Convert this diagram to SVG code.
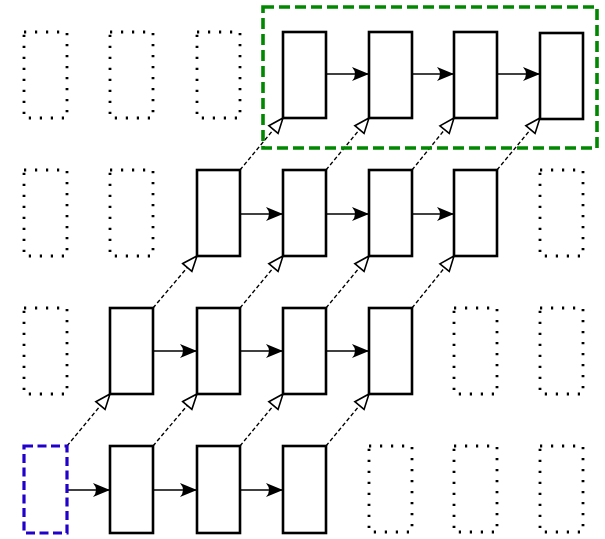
<svg xmlns="http://www.w3.org/2000/svg" width="605" height="539" viewBox="0 0 605 539">
<defs>
<style>
.box{fill:#fff;stroke:#000;stroke-width:2.6}
.dot{fill:none;stroke:#000;stroke-width:2.8;stroke-dasharray:2.2 8.8}
.h{stroke:#000;stroke-width:1.5;fill:none}
.d{stroke:#000;stroke-width:1.4;fill:none;stroke-dasharray:4 2.5}
</style>
<marker id="ah" markerUnits="userSpaceOnUse" markerWidth="20" markerHeight="16" refX="18" refY="8" orient="auto" viewBox="0 0 20 16">
<path d="M1,1 L18,8 L1,15 Q7,8 1,1 z" fill="#000"/>
</marker>
<marker id="tri" markerUnits="userSpaceOnUse" markerWidth="18" markerHeight="16" refX="16.5" refY="8" orient="auto" viewBox="0 0 18 16">
<path d="M1.5,2 L16.5,8 L1.5,14 z" fill="#fff" stroke="#000" stroke-width="1.6"/>
</marker>
</defs>
<rect x="0" y="0" width="605" height="539" fill="#fff"/>
<g id="empty">
<rect class="dot" x="24" y="32" width="43" height="86"/>
<rect class="dot" x="110" y="32" width="43" height="86"/>
<rect class="dot" x="197" y="32" width="43" height="86"/>
<rect class="dot" x="24" y="170" width="43" height="86"/>
<rect class="dot" x="110" y="170" width="43" height="86"/>
<rect class="dot" x="540" y="170" width="43" height="86"/>
<rect class="dot" x="24" y="308" width="43" height="86"/>
<rect class="dot" x="454" y="308" width="43" height="86"/>
<rect class="dot" x="540" y="308" width="43" height="86"/>
<rect class="dot" x="369" y="446" width="43" height="86"/>
<rect class="dot" x="454" y="446" width="43" height="86"/>
<rect class="dot" x="540" y="446" width="43" height="86"/>
</g>
<g id="connectors">
<line class="h" x1="326" y1="74" x2="369" y2="74" marker-end="url(#ah)"/>
<line class="h" x1="412" y1="74" x2="454" y2="74" marker-end="url(#ah)"/>
<line class="h" x1="497" y1="74" x2="540" y2="74" marker-end="url(#ah)"/>
<line class="h" x1="240" y1="214" x2="283" y2="214" marker-end="url(#ah)"/>
<line class="h" x1="326" y1="214" x2="369" y2="214" marker-end="url(#ah)"/>
<line class="h" x1="412" y1="214" x2="454" y2="214" marker-end="url(#ah)"/>
<line class="h" x1="153" y1="351" x2="197" y2="351" marker-end="url(#ah)"/>
<line class="h" x1="240" y1="351" x2="283" y2="351" marker-end="url(#ah)"/>
<line class="h" x1="326" y1="351" x2="369" y2="351" marker-end="url(#ah)"/>
<line class="h" x1="67" y1="490" x2="110" y2="490" marker-end="url(#ah)"/>
<line class="h" x1="153" y1="490" x2="197" y2="490" marker-end="url(#ah)"/>
<line class="h" x1="240" y1="490" x2="283" y2="490" marker-end="url(#ah)"/>
<line class="d" x1="240" y1="170" x2="283" y2="118" marker-end="url(#tri)"/>
<line class="d" x1="326" y1="170" x2="369" y2="118" marker-end="url(#tri)"/>
<line class="d" x1="412" y1="170" x2="454" y2="118" marker-end="url(#tri)"/>
<line class="d" x1="497" y1="170" x2="540" y2="118" marker-end="url(#tri)"/>
<line class="d" x1="153" y1="308" x2="197" y2="256" marker-end="url(#tri)"/>
<line class="d" x1="240" y1="308" x2="283" y2="256" marker-end="url(#tri)"/>
<line class="d" x1="326" y1="308" x2="369" y2="256" marker-end="url(#tri)"/>
<line class="d" x1="412" y1="308" x2="454" y2="256" marker-end="url(#tri)"/>
<line class="d" x1="67" y1="446" x2="110" y2="394" marker-end="url(#tri)"/>
<line class="d" x1="153" y1="446" x2="197" y2="394" marker-end="url(#tri)"/>
<line class="d" x1="240" y1="446" x2="283" y2="394" marker-end="url(#tri)"/>
<line class="d" x1="326" y1="446" x2="369" y2="394" marker-end="url(#tri)"/>
</g>
<g id="row0">
<rect class="box" x="283" y="32" width="43" height="86"/>
<rect class="box" x="369" y="32" width="43" height="86"/>
<rect class="box" x="454" y="32" width="43" height="86"/>
<rect class="box" x="540" y="33" width="43" height="86"/>
</g>
<g id="row1">
<rect class="box" x="197" y="170" width="43" height="86"/>
<rect class="box" x="283" y="170" width="43" height="86"/>
<rect class="box" x="369" y="170" width="43" height="86"/>
<rect class="box" x="454" y="170" width="43" height="86"/>
</g>
<g id="row2">
<rect class="box" x="110" y="308" width="43" height="86"/>
<rect class="box" x="197" y="308" width="43" height="86"/>
<rect class="box" x="283" y="308" width="43" height="86"/>
<rect class="box" x="369" y="308" width="43" height="86"/>
</g>
<g id="row3">
<rect id="start" x="24" y="446" width="43" height="87" fill="#fff" stroke="#2200cc" stroke-width="3.2" stroke-dasharray="9 4.5"/>
<rect class="box" x="110" y="446" width="43" height="87"/>
<rect class="box" x="197" y="446" width="43" height="87"/>
<rect class="box" x="283" y="446" width="43" height="87"/>
</g>
<g id="group">
<rect x="263" y="7" width="334" height="141" fill="none" stroke="#008800" stroke-width="3.6" stroke-dasharray="11 5"/>
</g>
</svg>
